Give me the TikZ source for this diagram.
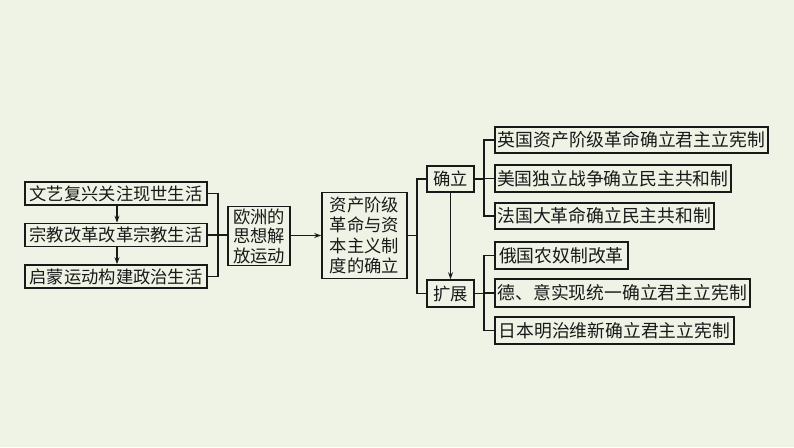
\documentclass[tikz,border=0pt]{standalone}
\usepackage{fontspec}
\newfontfamily\cjk{Noto Sans CJK SC}
\usetikzlibrary{arrows.meta}
\definecolor{bg}{RGB}{238,243,230}
\definecolor{ink}{RGB}{25,25,25}
\tikzset{
  box/.style={draw=ink, line width=1.6pt, fill=bg, inner sep=0pt, align=center,
    font=\cjk\fontsize{17.3}{19.5}\selectfont, text=ink},
  conn/.style={draw=ink, line width=1.4pt},
  arr/.style={conn, -{Stealth[length=7pt,width=5pt]}}
}
\begin{document}
\begin{tikzpicture}[x=1pt,y=-1pt]
\fill[bg] (0,0) rectangle (794,447);
\useasboundingbox (0,0) rectangle (794,447);
% left boxes
\node[box, minimum width=182pt, minimum height=23pt] (b1) at (116,193.5) {文艺复兴关注现世生活};
\node[box, minimum width=182pt, minimum height=23pt] (b2) at (116,235) {宗教改革改革宗教生活};
\node[box, minimum width=182pt, minimum height=23pt] (b3) at (116,276.5) {启蒙运动构建政治生活};
\node[box, minimum width=62pt, minimum height=59pt, font=\cjk\fontsize{17.3}{19.5}\selectfont] (oz) at (259,236) {欧洲的\\思想解\\放运动};
\node[box, minimum width=85pt, minimum height=86pt, font=\cjk\fontsize{17.3}{20.5}\selectfont] (zc) at (364.5,235.5) {资产阶级\\革命与资\\本主义制\\度的确立};
\node[box, minimum width=47pt, minimum height=26pt] (ql) at (450.5,179) {确立};
\node[box, minimum width=47pt, minimum height=27pt] (kz) at (450.5,293.5) {扩展};
% right boxes
\node[box, anchor=west, minimum width=273pt, minimum height=26pt, font=\cjk\fontsize{17.8}{20}\selectfont] (r1) at (494,140) {英国资产阶级革命确立君主立宪制};
\node[box, anchor=west, minimum width=236pt, minimum height=27pt, font=\cjk\fontsize{17.8}{20}\selectfont] (r2) at (494,178.5) {美国独立战争确立民主共和制};
\node[box, anchor=west, minimum width=219pt, minimum height=26pt, font=\cjk\fontsize{17.8}{20}\selectfont] (r3) at (494,216) {法国大革命确立民主共和制};
\node[box, anchor=west, minimum width=133pt, minimum height=27pt, font=\cjk\fontsize{17.8}{20}\selectfont] (r4) at (494,255.5) {俄国农奴制改革};
\node[box, anchor=west, minimum width=255pt, minimum height=28pt, font=\cjk\fontsize{17.8}{20}\selectfont] (r5) at (494,293) {德、意实现统一确立君主立宪制};
\node[box, anchor=west, minimum width=239pt, minimum height=27pt, font=\cjk\fontsize{17.8}{20}\selectfont] (r6) at (494,330.5) {日本明治维新确立君主立宪制};
% left arrows
\draw[arr] ([xshift=1pt]b1.south) -- ([xshift=1pt]b2.north);
\draw[arr] ([xshift=1pt]b2.south) -- ([xshift=1pt]b3.north);
% left bracket
\coordinate (lb) at (218,0);
\draw[conn] (b1.east) -- (lb |- b1.east) -- (lb |- b3.east) -- (b3.east);
\draw[conn] (b2.east) -- (oz.west |- b2.east);
\draw[arr] (oz.east |- zc.west) -- (zc.west);
% middle bracket
\coordinate (mb) at (417,0);
\draw[conn] (zc.east) -- (mb |- zc.east);
\draw[conn] (ql.west) -- (mb |- ql.west) -- (mb |- kz.west) -- (kz.west);
\draw[arr] (ql.south) -- (kz.north);
% right brackets
\coordinate (rb) at (484,0);
\draw[conn] (ql.east) -- (rb |- ql.east);
\draw[conn] (r1.west) -- (rb |- r1.west) -- (rb |- r3.west) -- (r3.west);
\draw[conn] (r2.west) -- (rb |- r2.west);
\draw[conn] (kz.east) -- (rb |- kz.east);
\draw[conn] (r4.west) -- (rb |- r4.west) -- (rb |- r6.west) -- (r6.west);
\draw[conn] (r5.west) -- (rb |- r5.west);
\end{tikzpicture}
\end{document}
